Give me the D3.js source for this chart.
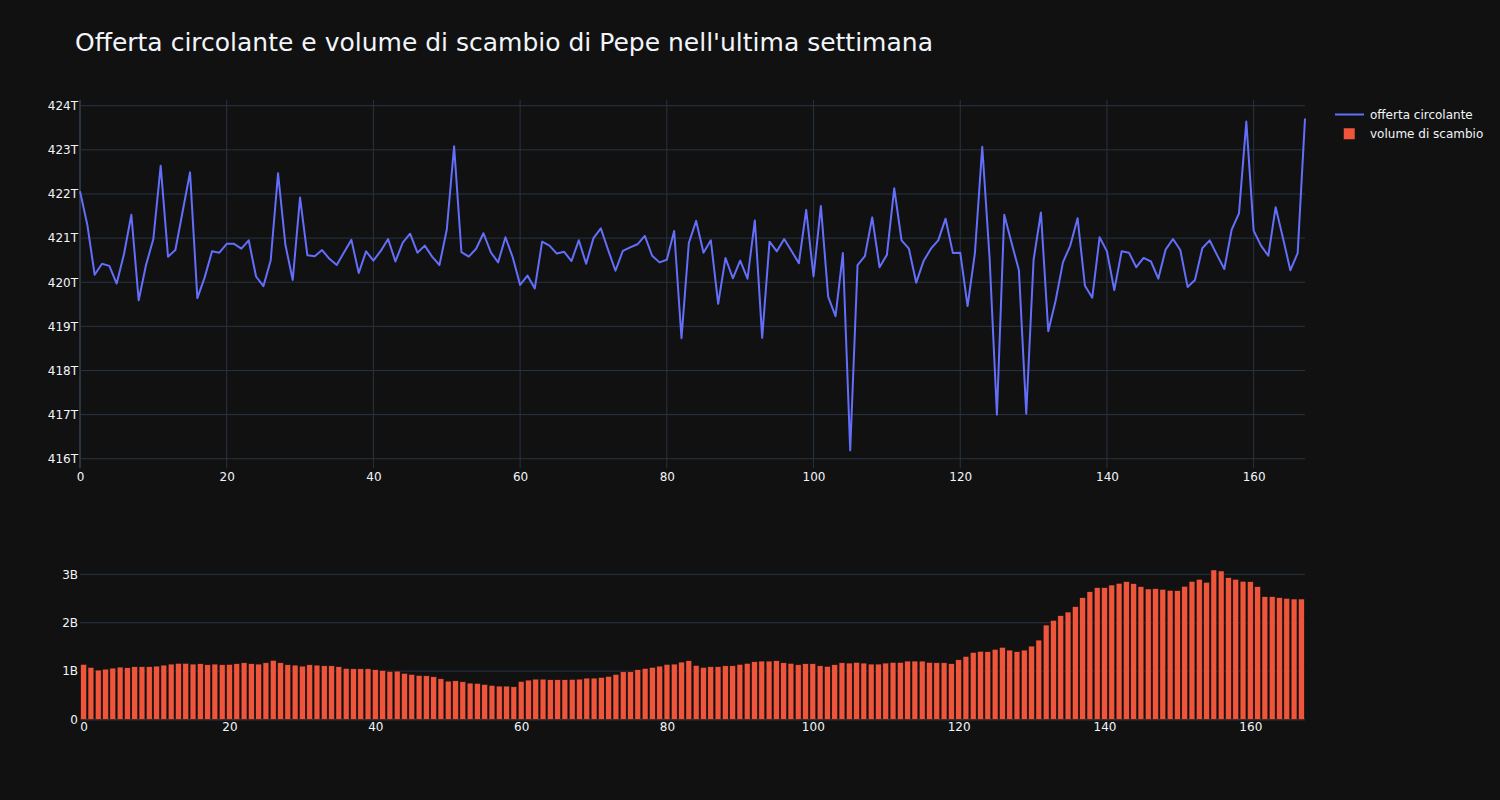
<!DOCTYPE html>
<html>
<head>
<meta charset="utf-8">
<script src="https://cdn.jsdelivr.net/npm/d3@7"></script>
<style>
  html, body { margin: 0; padding: 0; background: #111111; }
  svg { display: block; }
  text { font-family: "DejaVu Sans", verdana, arial, sans-serif; fill: #f2f5fa; }
</style>
</head>
<body>
<svg id="chart" width="1500" height="800"></svg>
<script>
// ---- Data (hours of the last week, index 0..167) ----
const titleText = "Offerta circolante e volume di scambio di Pepe nell'ultima settimana";
const seriesNames = ["offerta circolante", "volume di scambio"];

// circulating supply, in trillions (T)
const supplyT = [
  422.06, 421.30, 420.17, 420.42, 420.37, 419.97, 420.64, 421.53, 419.59, 420.39,
  420.98, 422.64, 420.58, 420.73, 421.61, 422.49, 419.64, 420.11, 420.70, 420.67,
  420.87, 420.87, 420.76, 420.95, 420.13, 419.91, 420.50, 422.47, 420.85, 420.05,
  421.92, 420.61, 420.59, 420.73, 420.53, 420.39, 420.68, 420.96, 420.21, 420.70,
  420.49, 420.71, 420.98, 420.47, 420.90, 421.10, 420.67, 420.83, 420.58, 420.39,
  421.19, 423.08, 420.68, 420.58, 420.76, 421.11, 420.68, 420.45, 421.02, 420.56,
  419.94, 420.15, 419.86, 420.92, 420.83, 420.65, 420.69, 420.48, 420.95, 420.42,
  421.00, 421.22, 420.73, 420.26, 420.71, 420.79, 420.86, 421.05, 420.60, 420.45,
  420.51, 421.16, 418.73, 420.89, 421.39, 420.67, 420.95, 419.51, 420.55, 420.09,
  420.49, 420.08, 421.40, 418.74, 420.92, 420.70, 420.98, 420.71, 420.43, 421.64,
  420.13, 421.73, 419.67, 419.23, 420.66, 416.19, 420.39, 420.59, 421.47, 420.34,
  420.62, 422.13, 420.95, 420.76, 419.99, 420.48, 420.76, 420.95, 421.44, 420.66,
  420.67, 419.46, 420.66, 423.07, 420.55, 417.00, 421.53, 420.89, 420.27, 417.02,
  420.51, 421.58, 418.89, 419.58, 420.45, 420.83, 421.45, 419.92, 419.65, 421.02,
  420.70, 419.82, 420.70, 420.67, 420.34, 420.55, 420.47, 420.08, 420.74, 420.98,
  420.73, 419.89, 420.05, 420.77, 420.95, 420.62, 420.30, 421.19, 421.56, 423.64,
  421.17, 420.83, 420.60, 421.70, 421.00, 420.27, 420.66, 423.71
];

// trading volume, in billions (B)
const volumeB = [
  1.138, 1.076, 1.021, 1.041, 1.062, 1.083, 1.069, 1.090, 1.090, 1.090,
  1.103, 1.124, 1.145, 1.159, 1.159, 1.145, 1.152, 1.131, 1.145, 1.131,
  1.138, 1.152, 1.172, 1.152, 1.145, 1.172, 1.221, 1.172, 1.131, 1.124,
  1.103, 1.131, 1.124, 1.110, 1.110, 1.090, 1.055, 1.048, 1.048, 1.048,
  1.028, 1.014, 0.993, 1.000, 0.952, 0.931, 0.910, 0.903, 0.883, 0.841,
  0.793, 0.800, 0.779, 0.752, 0.745, 0.724, 0.703, 0.690, 0.690, 0.676,
  0.786, 0.814, 0.834, 0.834, 0.821, 0.821, 0.821, 0.828, 0.834, 0.855,
  0.855, 0.869, 0.890, 0.931, 0.986, 0.986, 1.028, 1.055, 1.076, 1.103,
  1.138, 1.145, 1.186, 1.214, 1.117, 1.076, 1.090, 1.090, 1.110, 1.110,
  1.138, 1.159, 1.193, 1.207, 1.207, 1.214, 1.172, 1.159, 1.131, 1.152,
  1.152, 1.110, 1.097, 1.131, 1.172, 1.166, 1.179, 1.166, 1.145, 1.145,
  1.166, 1.179, 1.179, 1.207, 1.207, 1.207, 1.179, 1.172, 1.172, 1.152,
  1.234, 1.303, 1.386, 1.407, 1.400, 1.448, 1.490, 1.434, 1.400, 1.434,
  1.517, 1.641, 1.952, 2.048, 2.145, 2.221, 2.331, 2.517, 2.641, 2.724,
  2.724, 2.779, 2.814, 2.848, 2.807, 2.745, 2.697, 2.703, 2.690, 2.669,
  2.662, 2.752, 2.855, 2.897, 2.834, 3.090, 3.069, 2.931, 2.897, 2.855,
  2.848, 2.745, 2.538, 2.538, 2.517, 2.503, 2.490, 2.490
];

const hours = supplyT.map((_, i) => i);

const xTickValues = [0, 20, 40, 60, 80, 100, 120, 140, 160];
const supplyTicks = [416, 417, 418, 419, 420, 421, 422, 423, 424];
const supplyTickLabels = ["416T", "417T", "418T", "419T", "420T", "421T", "422T", "423T", "424T"];
const volumeTicks = [0, 1, 2, 3];
const volumeTickLabels = ["0", "1B", "2B", "3B"];

// ---- Layout ----
const W = 1500, H = 800;
const left = 80, right = 1305;
const top1 = 100, bottom1 = 468;
const top2 = 562, bottom2 = 719.5;
const bg = "#111111", grid = "#283442", textCol = "#f2f5fa";
const lineCol = "#636efa", barCol = "#EF553B";
const fontFam = '"DejaVu Sans", verdana, arial, sans-serif';

const svg = d3.select("#chart");
svg.append("rect").attr("width", W).attr("height", H).attr("fill", bg);

// Title
svg.append("text")
  .attr("x", 75).attr("y", 51)
  .attr("font-size", 25)
  .text(titleText);

// ---- Top subplot: supply line ----
const x1 = d3.scaleLinear().domain([0, 167]).range([left, right]);
const y1 = d3.scaleLinear().domain([415.79, 424.13]).range([bottom1, top1]);

const g1 = svg.append("g");
g1.selectAll("line.hg").data(supplyTicks).join("line")
  .attr("x1", left).attr("x2", right)
  .attr("y1", d => y1(d)).attr("y2", d => y1(d))
  .attr("stroke", grid).attr("stroke-width", 1);
g1.selectAll("line.vg").data(xTickValues.filter(d => d !== 0)).join("line")
  .attr("x1", d => x1(d)).attr("x2", d => x1(d))
  .attr("y1", top1).attr("y2", bottom1)
  .attr("stroke", grid).attr("stroke-width", 1);
g1.append("line")
  .attr("x1", x1(0)).attr("x2", x1(0))
  .attr("y1", top1).attr("y2", bottom1)
  .attr("stroke", grid).attr("stroke-width", 2);

const yAxis1 = d3.axisLeft(y1).tickValues(supplyTicks)
  .tickFormat((d, i) => supplyTickLabels[i]).tickSize(0).tickPadding(2);
const ya1 = svg.append("g").attr("transform", `translate(${left},0)`).call(yAxis1);
const xAxis1 = d3.axisBottom(x1).tickValues(xTickValues).tickFormat(d3.format("d")).tickSize(0).tickPadding(4);
const xa1 = svg.append("g").attr("transform", `translate(0,${bottom1})`).call(xAxis1);

const line = d3.line().x((d, i) => x1(hours[i])).y(d => y1(d));
svg.append("path")
  .datum(supplyT)
  .attr("d", line)
  .attr("fill", "none")
  .attr("stroke", lineCol)
  .attr("stroke-width", 2)
  .attr("stroke-linejoin", "round");

// ---- Bottom subplot: volume bars ----
const x2lin = d3.scaleLinear().domain([-0.5, 167.5]).range([left, right]);
const x2 = d3.scaleBand().domain(hours).range([left, right]).paddingInner(0.2).paddingOuter(0.1);
const y2 = d3.scaleLinear().domain([0, 3.255]).range([bottom2, top2]);

svg.selectAll("line.hg2").data(volumeTicks.filter(d => d !== 0)).join("line")
  .attr("x1", left).attr("x2", right)
  .attr("y1", d => y2(d)).attr("y2", d => y2(d))
  .attr("stroke", grid).attr("stroke-width", 1);
svg.append("line")
  .attr("x1", left).attr("x2", right)
  .attr("y1", y2(0)).attr("y2", y2(0))
  .attr("stroke", grid).attr("stroke-width", 2);

svg.append("g").selectAll("rect").data(volumeB).join("rect")
  .attr("x", (d, i) => x2(hours[i]))
  .attr("width", x2.bandwidth())
  .attr("y", d => y2(d))
  .attr("height", d => y2(0) - y2(d))
  .attr("fill", barCol)
  .attr("stroke", "rgb(17,17,17)")
  .attr("stroke-width", 0.5);

const yAxis2 = d3.axisLeft(y2).tickValues(volumeTicks)
  .tickFormat((d, i) => volumeTickLabels[i]).tickSize(0).tickPadding(2);
const ya2 = svg.append("g").attr("transform", `translate(${left},0)`).call(yAxis2);
const xAxis2 = d3.axisBottom(x2lin).tickValues(xTickValues).tickFormat(d3.format("d")).tickSize(0).tickPadding(3);
const xa2 = svg.append("g").attr("transform", `translate(0,${bottom2})`).call(xAxis2);

[ya1, xa1, ya2, xa2].forEach(a => {
  a.select(".domain").remove();
  a.selectAll("text").attr("font-size", 12).attr("fill", textCol)
    .style("font-family", fontFam);
});

// ---- Legend ----
const lg = svg.append("g");
lg.append("line")
  .attr("x1", 1335).attr("x2", 1364).attr("y1", 114.5).attr("y2", 114.5)
  .attr("stroke", lineCol).attr("stroke-width", 2);
lg.append("text").attr("x", 1370).attr("y", 114.5).attr("dy", "0.35em")
  .attr("font-size", 12).text(seriesNames[0]);
lg.append("rect")
  .attr("x", 1343.5).attr("y", 128).attr("width", 11.5).attr("height", 11.5)
  .attr("fill", barCol).attr("stroke", "rgb(17,17,17)").attr("stroke-width", 0.5);
lg.append("text").attr("x", 1370).attr("y", 134).attr("dy", "0.35em")
  .attr("font-size", 12).text(seriesNames[1]);
</script>
</body>
</html>
